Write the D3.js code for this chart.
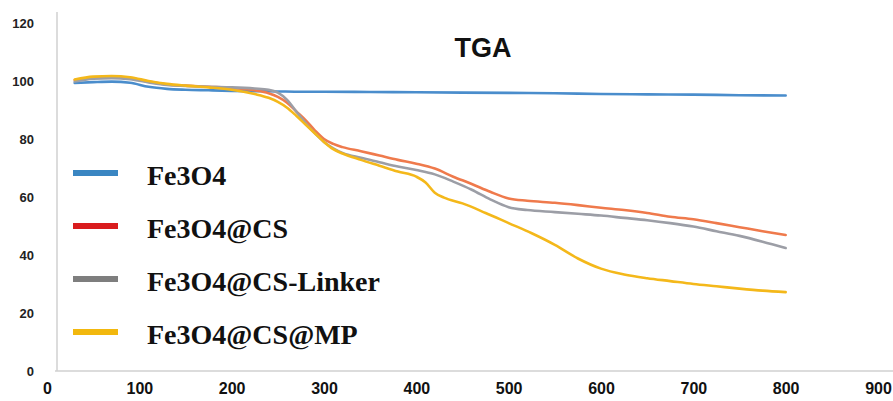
<!DOCTYPE html>
<html>
<head>
<meta charset="utf-8">
<script src="https://cdn.jsdelivr.net/npm/d3@7"></script>
<style>
  body { margin: 0; background: #fff; }
  svg { display: block; }
</style>
</head>
<body>
<div id="chart"></div>
<script>
// data
const seriesNames = ['Fe3O4', 'Fe3O4@CS', 'Fe3O4@CS-Linker', 'Fe3O4@CS@MP'];
const xTicks = [0, 100, 200, 300, 400, 500, 600, 700, 800, 900];
const yTicks = [0, 20, 40, 60, 80, 100, 120];

const tempFe3O4 = [30, 50, 70, 90, 110, 130, 150, 175, 200, 225, 250, 275, 300, 350, 400, 450, 500, 550, 600, 650, 700, 750, 800];
const massFe3O4 = [99.3, 99.6, 99.8, 99.4, 98.0, 97.3, 97.0, 96.8, 96.6, 96.5, 96.4, 96.3, 96.3, 96.2, 96.1, 96.0, 95.9, 95.8, 95.5, 95.4, 95.3, 95.1, 95.0];

const tempCS = [30, 50, 70, 90, 110, 130, 150, 175, 200, 225, 240, 250, 260, 270, 280, 290, 300, 310, 320, 340, 360, 380, 400, 420, 440, 460, 480, 500, 520, 550, 575, 600, 625, 650, 675, 700, 725, 750, 775, 800];
const massCS = [100.3, 101.2, 101.4, 101.0, 99.8, 98.8, 98.4, 98.0, 97.6, 96.8, 95.8, 94.5, 92.5, 89.5, 86.5, 83.0, 80.0, 78.3, 77.2, 75.8, 74.3, 72.8, 71.5, 69.8, 67.0, 64.5, 61.8, 59.5, 58.7, 58.0, 57.2, 56.3, 55.5, 54.5, 53.2, 52.3, 51.0, 49.6, 48.2, 46.9];

const tempLinker = [30, 50, 70, 90, 110, 130, 150, 175, 200, 225, 240, 250, 260, 270, 280, 290, 300, 310, 320, 340, 360, 380, 400, 420, 440, 460, 480, 500, 520, 550, 575, 600, 625, 650, 675, 700, 725, 750, 775, 800];
const massLinker = [99.8, 100.8, 101.0, 100.6, 99.5, 98.6, 98.3, 98.0, 97.8, 97.4, 97.0, 96.0, 93.5, 89.5, 85.5, 82.0, 79.0, 76.8, 75.2, 73.5, 72.0, 70.5, 69.3, 67.8, 65.3, 62.5, 59.2, 56.5, 55.5, 54.8, 54.2, 53.6, 52.8, 52.0, 51.0, 49.8, 48.2, 46.6, 44.6, 42.4];

const tempMP = [30, 50, 70, 90, 110, 130, 150, 175, 200, 225, 240, 250, 260, 270, 280, 290, 300, 310, 320, 340, 360, 380, 400, 410, 420, 430, 450, 475, 500, 525, 550, 575, 600, 625, 650, 675, 700, 725, 750, 775, 800];
const massMP = [100.5, 101.5, 101.7, 101.3, 100.0, 99.0, 98.4, 97.8, 97.0, 95.5, 94.2, 92.8, 90.8, 88.0, 85.0, 82.0, 79.0, 76.5, 75.0, 72.8, 70.8, 68.8, 67.0, 65.0, 61.5, 59.8, 57.8, 54.5, 51.0, 47.5, 43.5, 38.8, 35.3, 33.3, 32.0, 31.0, 30.0, 29.2, 28.4, 27.7, 27.2];

const series = [
    {name: seriesNames[0], temps: tempFe3O4, masses: massFe3O4, line: '#4a8dcc', swatch: '#3a86c2'},
    {name: seriesNames[1], temps: tempCS, masses: massCS, line: '#ef7a4c', swatch: '#d91c1e'},
    {name: seriesNames[2], temps: tempLinker, masses: massLinker, line: '#9c9ea6', swatch: '#7e7e7e'},
    {name: seriesNames[3], temps: tempMP, masses: massMP, line: '#f4b81a', swatch: '#f2b80e'},
];

// dimensions
const width = 893;
const height = 401;
const axisLeftX = 57;

const svg = d3.select('#chart')
    .append('svg')
    .attr('width', width)
    .attr('height', height);

// scales
const xScale = d3.scaleLinear()
    .domain([0, 900])
    .range([47, 878]);

const yScale = d3.scaleLinear()
    .domain([0, 120])
    .range([371, 23]);

// axis lines
svg.append('line')
    .attr('x1', axisLeftX).attr('x2', axisLeftX)
    .attr('y1', 12).attr('y2', yScale(0))
    .attr('stroke', '#d0d0d0')
    .attr('stroke-width', 1.5);

svg.append('line')
    .attr('x1', axisLeftX - 2).attr('x2', width)
    .attr('y1', yScale(0)).attr('y2', yScale(0))
    .attr('stroke', '#d0d0d0')
    .attr('stroke-width', 1.5);

// axes
const xAxis = d3.axisBottom(xScale)
    .tickValues(xTicks)
    .tickSize(0)
    .tickPadding(12);

const xAxisGroup = svg.append('g')
    .attr('transform', `translate(0, ${yScale(0)})`)
    .call(xAxis);
xAxisGroup.select('.domain').remove();
xAxisGroup.selectAll('text')
    .attr('font-family', '"Liberation Sans Narrow", "Arial Narrow", sans-serif')
    .attr('font-weight', 'bold')
    .attr('font-size', 16)
    .attr('fill', '#111');

const yAxis = d3.axisLeft(yScale)
    .tickValues(yTicks)
    .tickSize(0)
    .tickPadding(23);

const yAxisGroup = svg.append('g')
    .attr('transform', `translate(${axisLeftX}, 0)`)
    .call(yAxis);
yAxisGroup.select('.domain').remove();
yAxisGroup.selectAll('text')
    .attr('font-family', '"Liberation Sans", Arial, sans-serif')
    .attr('font-weight', 'bold')
    .attr('font-size', 13)
    .attr('fill', '#222');

// lines
const lineGen = d3.line()
    .x(d => xScale(d[0]))
    .y(d => yScale(d[1]))
    .curve(d3.curveMonotoneX);

svg.selectAll('path.series')
    .data(series)
    .join('path')
    .attr('class', 'series')
    .attr('d', s => lineGen(d3.zip(s.temps, s.masses)))
    .attr('fill', 'none')
    .attr('stroke', s => s.line)
    .attr('stroke-width', 2.6)
    .attr('stroke-linejoin', 'round')
    .attr('stroke-linecap', 'round');

// title
svg.append('text')
    .attr('x', 483)
    .attr('y', 57)
    .attr('text-anchor', 'middle')
    .attr('font-family', '"Liberation Sans", Arial, sans-serif')
    .attr('font-weight', 'bold')
    .attr('font-size', 27)
    .attr('fill', '#111')
    .text('TGA');

// legend
const legend = svg.append('g')
    .attr('transform', 'translate(73, 173)');

const legendItem = legend.selectAll('g')
    .data(series)
    .join('g')
    .attr('transform', (d, i) => `translate(0, ${i * 53})`);

legendItem.append('line')
    .attr('x1', 0).attr('x2', 45)
    .attr('y1', 0).attr('y2', 0)
    .attr('stroke', d => d.swatch)
    .attr('stroke-width', 6);

legendItem.append('text')
    .attr('x', 74)
    .attr('y', 12)
    .attr('font-family', '"Liberation Serif", "Times New Roman", serif')
    .attr('font-weight', 'bold')
    .attr('font-size', 28)
    .attr('fill', '#111')
    .text(d => d.name);
</script>
</body>
</html>
